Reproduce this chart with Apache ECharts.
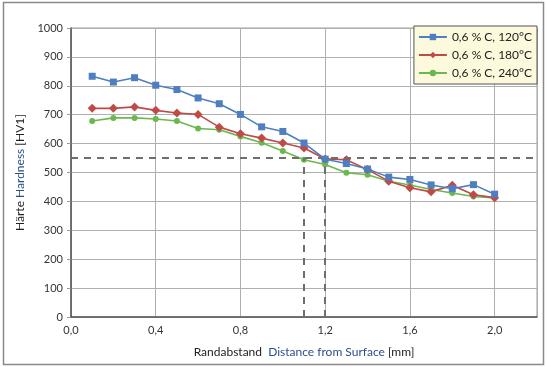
<!DOCTYPE html>
<html>
<head>
<meta charset="utf-8">
<script src="https://cdn.jsdelivr.net/npm/echarts@6/dist/echarts.min.js"></script>
<style>html,body{margin:0;padding:0;background:#fff}#c{width:547px;height:367px}</style>
</head>
<body>
<div id="c"></div>
<script>
const distances = [0.1,0.2,0.3,0.4,0.5,0.6,0.7,0.8,0.9,1.0,1.1,1.2,1.3,1.4,1.5,1.6,1.7,1.8,1.9,2.0];
const hv120 = [833,813,828,802,787,758,738,701,658,642,602,546,531,512,484,476,457,444,458,425];
const hv180 = [722,722,727,715,706,701,657,634,619,602,585,547,544,510,470,447,433,456,423,413];
const hv240 = [678,689,689,685,678,652,648,625,603,574,544,528,499,492,470,457,441,429,417,412];
const seriesNames = ['0,6 % C, 120°C','0,6 % C, 180°C','0,6 % C, 240°C'];
const refHardness = 550;
const refDepths = [1.1, 1.2];
const xTicks = [0,0.4,0.8,1.2,1.6,2.0];

const chart = echarts.init(document.getElementById('c'));
const font = 'Lato, "Noto Sans", sans-serif';
function pts(arr){ return distances.map((d,i)=>[d,arr[i]]); }
const colors = ['#4f7fc0','#be4b48','#6cb84e'];
const symbols = ['rect','diamond','circle'];
const symSizes = [7,9,6];
const all = [hv120,hv180,hv240];

const series = all.map((a,i)=>({
  name: seriesNames[i], type:'line', data: pts(a),
  symbol: symbols[i], symbolSize: symSizes[i], showSymbol:true,
  lineStyle:{color:colors[i], width:1.6}, itemStyle:{color:colors[i]},
  z: 3 + (2-i)
}));
series.push({
  name:'ref', type:'line', data:[], silent:true,
  markLine:{
    symbol:['none','none'], silent:true, label:{show:false},
    lineStyle:{color:'#6e6e6e', type:[7,6], width:2},
    data:[
      [{coord:[0,refHardness]},{coord:[2.2,refHardness]}],
      ...refDepths.map(d=>[{coord:[d,0]},{coord:[d,refHardness]}])
    ]
  }
});

chart.setOption({
  animation:false,
  textStyle:{fontFamily:font},
  graphic:[{type:'rect', shape:{x:3.5,y:2.5,width:540,height:362}, style:{fill:'none', stroke:'#8a8a8a', lineWidth:1.5}, silent:true}],
  grid:{left:71, right:10, top:28, bottom:50, show:true, borderColor:'#9a9a9a', borderWidth:1},
  legend:{
    orient:'vertical', right:10, top:26, data:seriesNames,
    backgroundColor:'#fcf9dc', borderColor:'#555', borderWidth:1,
    padding:[5,5,5,4], itemGap:6, itemWidth:28, itemHeight:8,
    textStyle:{fontFamily:font, fontSize:12, color:'#222'}
  },
  xAxis:{
    type:'value', min:0, max:2.2, interval:0.4,
    name:'{a|Randabstand}  {b|Distance from Surface} {a|[mm]}', nameLocation:'middle', nameGap:29,
    nameTextStyle:{rich:{a:{fontFamily:font,fontSize:12,color:'#222'}, b:{fontFamily:font,fontSize:12,color:'#2b4e8c'}}},
    axisLine:{show:true, lineStyle:{color:'#555', width:1.5}},
    axisTick:{show:false},
    splitLine:{show:true, lineStyle:{color:'#b0b0b0', width:1}},
    axisLabel:{fontSize:11, color:'#333', margin:8, formatter:v=> xTicks.some(t=>Math.abs(t-v)<1e-6) ? v.toFixed(1).replace('.',',') : ''}
  },
  yAxis:{
    type:'value', min:0, max:1000, interval:100,
    name:'{a|Härte} {b|Hardness} {a|[HV1]}', nameLocation:'middle', nameGap:43, nameRotate:90,
    nameTextStyle:{rich:{a:{fontFamily:font,fontSize:12,color:'#222'}, b:{fontFamily:font,fontSize:12,color:'#2b4e8c'}}},
    axisLine:{show:true, lineStyle:{color:'#555', width:1.5}},
    axisTick:{show:true, inside:false, length:4, lineStyle:{color:'#999'}},
    splitLine:{show:true, lineStyle:{color:'#b0b0b0', width:1}},
    axisLabel:{fontSize:11, color:'#333', margin:8, formatter:v=>String(v)}
  },
  series
});
</script>
</body>
</html>
